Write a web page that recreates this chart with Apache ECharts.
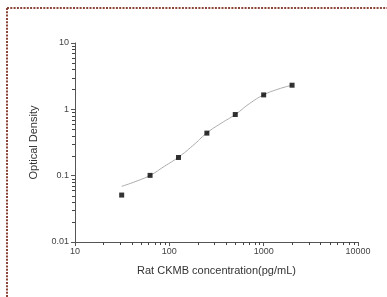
<!DOCTYPE html>
<html>
<head>
<meta charset="utf-8">
<style>
  html, body { margin: 0; padding: 0; background: #fff; }
  #chart { width: 387px; height: 297px; }
</style>
<script src="https://cdn.jsdelivr.net/npm/echarts@6/dist/echarts.min.js"></script>
</head>
<body>
<div id="chart"></div>
<script>
// standards (pg/mL) and measured OD
var concentrations = [31.25, 62.5, 125, 250, 500, 1000, 2000];
var odValues = [0.051, 0.101, 0.188, 0.438, 0.835, 1.65, 2.31];

// fitted curve
var curveX = [31.25, 44.2, 62.5, 88.4, 125, 177, 250, 354, 500, 707, 1000, 1414, 2000];
var curveY = [0.069, 0.082, 0.101, 0.138, 0.19, 0.283, 0.44, 0.617, 0.835, 1.22, 1.65, 2.01, 2.31];

// minor tick positions for the log axes
var xMinor = [20, 30, 40, 50, 60, 70, 80, 90, 200, 300, 400, 500, 600, 700, 800, 900,
              2000, 3000, 4000, 5000, 6000, 7000, 8000, 9000];
var yMinor = [0.02, 0.03, 0.04, 0.05, 0.06, 0.07, 0.08, 0.09, 0.2, 0.3, 0.4, 0.5, 0.6, 0.7, 0.8, 0.9,
              2, 3, 4, 5, 6, 7, 8, 9];

var myChart = echarts.init(document.getElementById('chart'));

var axisColor = '#555';
var font = 'Liberation Sans, Arial, sans-serif';

function tickLabel(v) {
    return String(+Number(v).toPrecision(3));
}

// short ticks at 2..9 of each decade
function minorTick(dir) {
    return function (params, api) {
        var p = api.coord([api.value(0), api.value(1)]);
        var x = Math.round(p[0]), y = Math.round(p[1]);
        var shape = dir === 'down'
            ? { x1: x + 0.5, y1: y, x2: x + 0.5, y2: y + 3 }
            : { x1: x, y1: y + 0.5, x2: x - 3, y2: y + 0.5 };
        return { type: 'line', shape: shape, style: { stroke: '#444', lineWidth: 1 } };
    };
}

var option = {
    animation: false,
    grid: { left: 75, right: 29, top: 43, bottom: 55 },
    graphic: [
        { type: 'line', shape: { x1: 7, y1: 8, x2: 387, y2: 8 },
          style: { stroke: '#8a4538', lineWidth: 2, lineDash: [2, 1.3] } },
        { type: 'line', shape: { x1: 7, y1: 8, x2: 7, y2: 297 },
          style: { stroke: '#8a4538', lineWidth: 2, lineDash: [2, 1.3] } }
    ],
    xAxis: {
        type: 'log',
        logBase: 10,
        min: 10,
        max: 10000,
        name: 'Rat CKMB concentration(pg/mL)',
        nameLocation: 'middle',
        nameGap: 23,
        nameTextStyle: { fontFamily: font, fontSize: 11, color: '#333' },
        axisLine: { lineStyle: { color: axisColor } },
        axisTick: { length: 4, lineStyle: { color: axisColor } },
        axisLabel: { fontFamily: font, fontSize: 9, color: '#444', margin: 5, formatter: tickLabel },
        splitLine: { show: false }
    },
    yAxis: {
        type: 'log',
        logBase: 10,
        min: 0.01,
        max: 10,
        name: 'Optical Density',
        nameLocation: 'middle',
        nameGap: 36,
        nameTextStyle: { fontFamily: font, fontSize: 11, color: '#333' },
        axisLine: { show: true, lineStyle: { color: axisColor } },
        axisTick: { show: true, length: 4, lineStyle: { color: axisColor } },
        axisLabel: { fontFamily: font, fontSize: 9, color: '#444', margin: 6, formatter: tickLabel },
        splitLine: { show: false }
    },
    series: [
        {
            type: 'line',
            data: curveX.map(function (x, i) { return [x, curveY[i]]; }),
            smooth: 0.5,
            showSymbol: false,
            lineStyle: { color: '#aaa', width: 1 },
            silent: true,
            z: 2
        },
        {
            type: 'scatter',
            data: concentrations.map(function (x, i) { return [x, odValues[i]]; }),
            symbol: 'rect',
            symbolSize: 5,
            itemStyle: { color: '#000' },
            z: 3
        },
        {
            type: 'custom',
            clip: false,
            silent: true,
            z: 5,
            encode: { x: 0, y: 1 },
            data: xMinor.map(function (v) { return [v, 0.01]; }),
            renderItem: minorTick('down')
        },
        {
            type: 'custom',
            clip: false,
            silent: true,
            z: 5,
            encode: { x: 0, y: 1 },
            data: yMinor.map(function (v) { return [10, v]; }),
            renderItem: minorTick('left')
        }
    ]
};

myChart.setOption(option);
</script>
</body>
</html>
